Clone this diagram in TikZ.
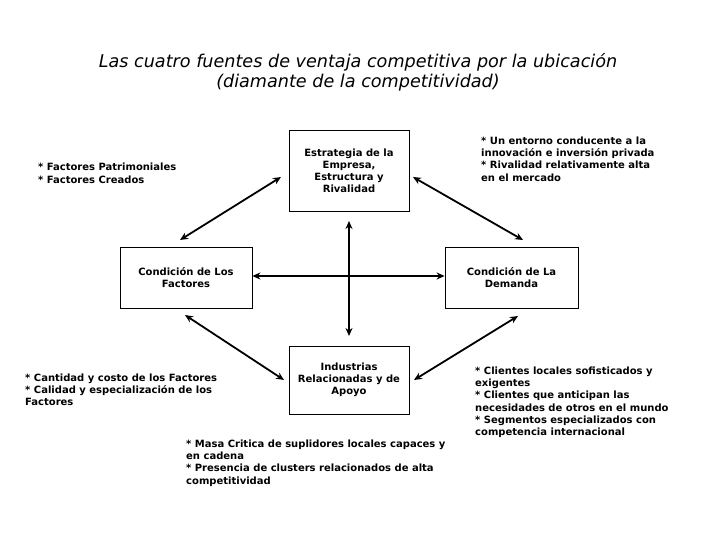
\documentclass[tikz,border=0pt]{standalone}
\usepackage{fontspec}
\setmainfont{DejaVu Sans}
\usetikzlibrary{arrows.meta}
\begin{document}
\begin{tikzpicture}[x=1pt,y=-1pt,
  box/.style={draw,line width=0.8pt,align=center,inner sep=0pt,font=\fontsize{10}{12}\selectfont\bfseries},
  note/.style={anchor=north west,align=left,inner sep=0pt,font=\fontsize{10}{12.3}\selectfont\bfseries},
  arr/.style={line width=1.8pt,{Stealth[length=8pt,width=7pt]}-{Stealth[length=8pt,width=7pt]}}]
\useasboundingbox (0,0) rectangle (720,540);
\node[align=center,inner sep=0pt,font=\fontsize{17.6}{20}\selectfont\itshape] (title) at (358,72)
  {Las cuatro fuentes de ventaja competitiva por la ubicación\\(diamante de la competitividad)};
\node[box,minimum width=120,minimum height=81] (top) at (349,170.5) {Estrategia de la\\Empresa,\\Estructura y\\Rivalidad};
\node[box,minimum width=132,minimum height=61] (left) at (186,277.5) {Condición de Los\\Factores};
\node[box,minimum width=133,minimum height=61] (right) at (511.5,277.5) {Condición de La\\Demanda};
\node[box,minimum width=120,minimum height=68] (bot) at (349,380) {Industrias\\Relacionadas y de\\Apoyo};
\coordinate (tl1) at (281,177); \coordinate (tl2) at (180,240);
\coordinate (tr1) at (413,177); \coordinate (tr2) at (523,240);
\coordinate (bl1) at (185,315); \coordinate (bl2) at (284,380);
\coordinate (br1) at (414,380); \coordinate (br2) at (518,316);
\coordinate (vt) at (349,221); \coordinate (vb) at (349,336);
\draw[arr] (tl1) -- (tl2);
\draw[arr] (tr1) -- (tr2);
\draw[arr] (bl1) -- (bl2);
\draw[arr] (br1) -- (br2);
\draw[arr] (left.east |- 0,276) -- (right.west |- 0,276);
\draw[arr] (vt) -- (vb);
\node[note] (n1) at (38,163) {* Factores Patrimoniales\\* Factores Creados};
\node[note] (n2) at (481,136.5) {* Un entorno conducente a la\\innovación e inversión privada\\* Rivalidad relativamente alta\\en el mercado};
\node[note] (n3) at (25,373.5) {* Cantidad y costo de los Factores\\* Calidad y especialización de los\\Factores};
\node[note] (n4) at (475,366.5) {* Clientes locales sofisticados y\\exigentes\\* Clientes que anticipan las\\necesidades de otros en el mundo\\* Segmentos especializados con\\competencia internacional};
\node[note] (n5) at (186,439.5) {* Masa Critica de suplidores locales capaces y\\en cadena\\* Presencia de clusters relacionados de alta\\competitividad};
\end{tikzpicture}
\end{document}
